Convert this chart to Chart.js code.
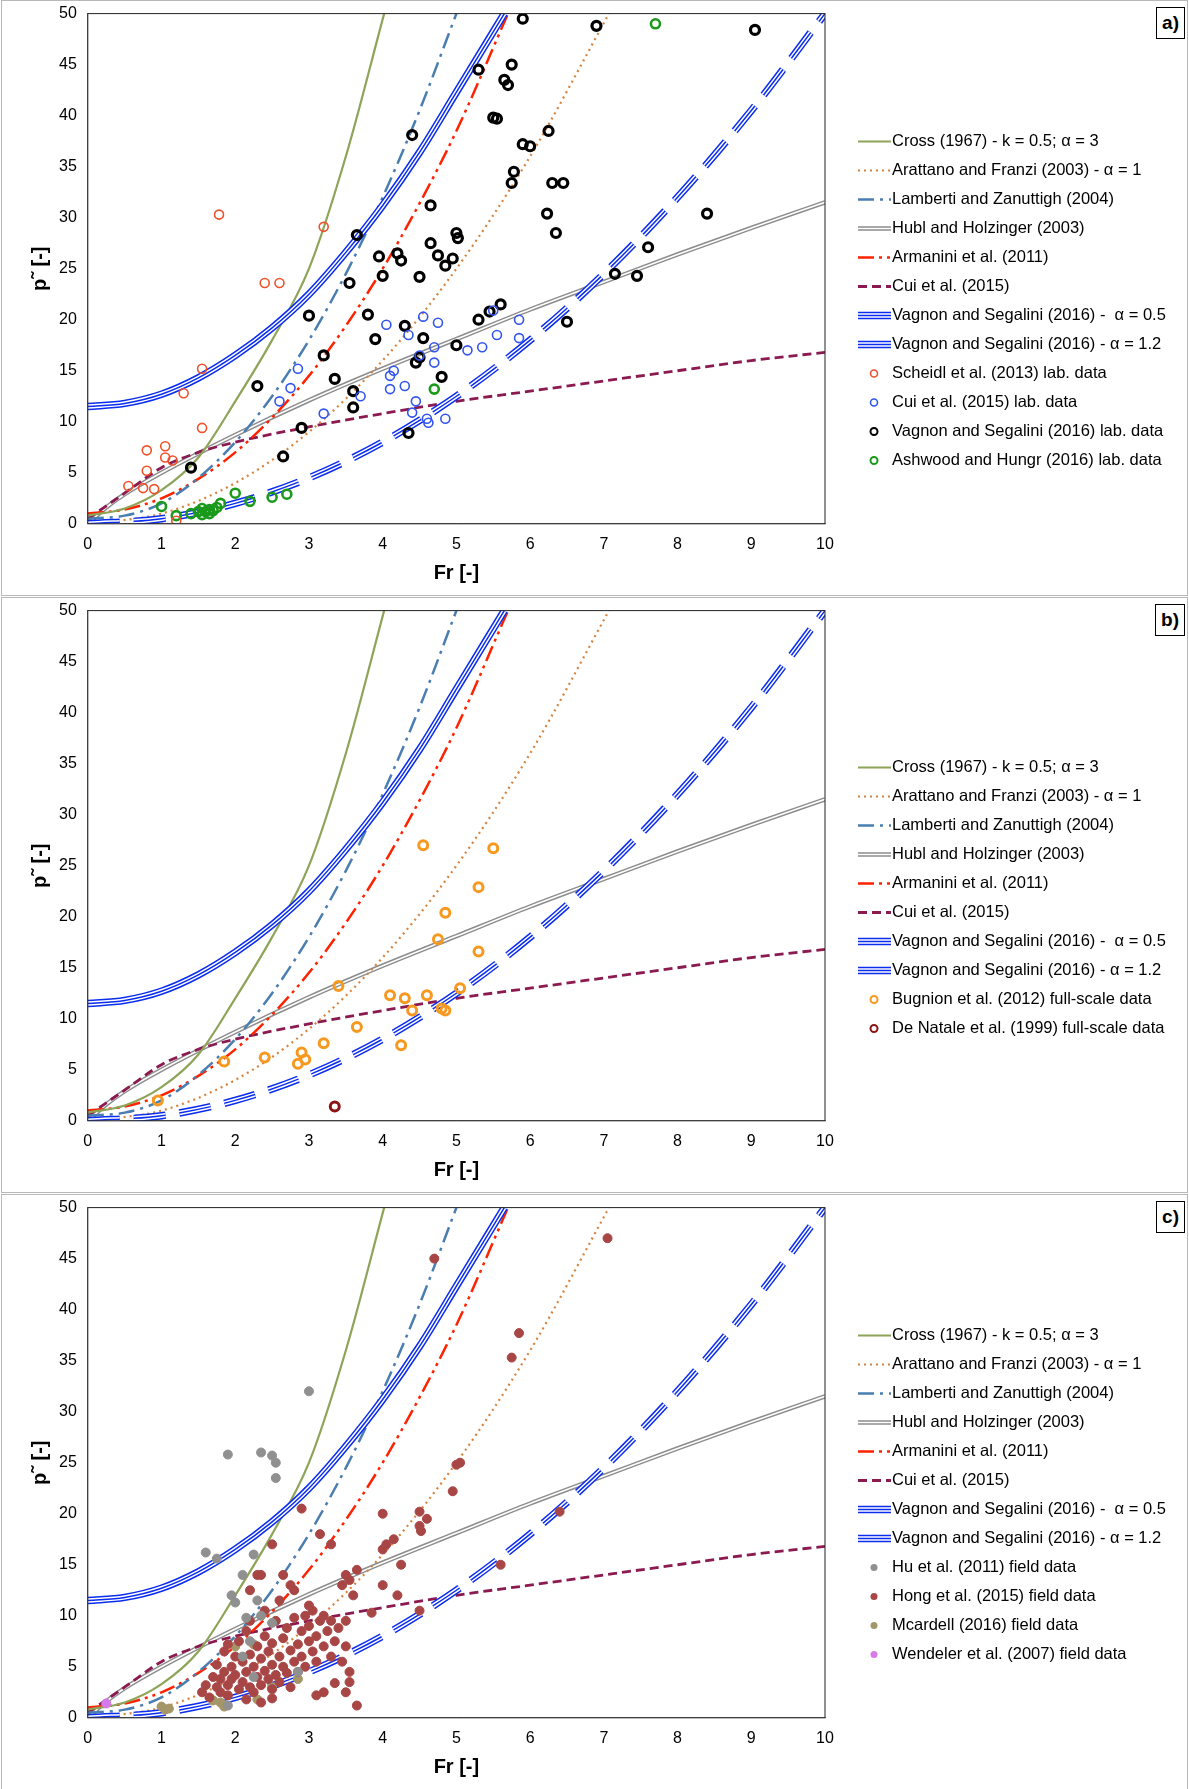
<!DOCTYPE html>
<html><head><meta charset="utf-8">
<script src="https://cdn.jsdelivr.net/npm/chart.js@4"></script>
<style>
body{margin:0;background:#fff;font-family:"Liberation Sans",Arial,sans-serif;}
.panel{position:relative;width:1185px;height:594px;border:1px solid #b8b8b8;margin:0 0 1px 1px;}
.tag{position:absolute;right:2px;top:6px;border:1px solid #000;background:#fff;font-weight:bold;font-size:19px;padding:4px 5px;}
canvas{display:block;}
</style></head><body>
<div class="panel"><canvas id="ca" width="1185" height="594"></canvas><div class="tag">a)</div></div>
<div class="panel"><canvas id="cb" width="1185" height="594"></canvas><div class="tag">b)</div></div>
<div class="panel"><canvas id="cc" width="1185" height="594"></canvas><div class="tag">c)</div></div>
<script>
// model curves
const crossFr = [0,0.5,1,1.5,2,2.5,3,3.5,4.02];
const crossP  = [0.8,1.5,3.3,6.5,12,18,25,36,50];
const arattFr = [0,1,2,3,4,5,6,7.07];
const arattP  = [0,1,4,9,16,25,36,50];
const lambFr = [0,0.5,1,1.5,2,2.5,3,3.5,4,4.5,5];
const lambP  = [0.5,0.8,2,4.5,8,12.5,18,24.5,32,40.5,50];
const hublFr = [0,0.25,0.5,1,2,3,4,5,6,7,8,9,10];
const hublP  = [0,1.6,2.9,5,8.7,12.1,15.2,18.1,21,23.7,26.4,29,31.5];
const armFr = [0,0.5,1,1.5,2,2.5,3,3.5,4,4.5,5,5.7];
const armP  = [1,1.4,2.5,4.4,7,10.4,14.5,19.4,25,31.4,38.5,50];
const cuiFr = [0,0.5,1,1.5,2,3,4,5,6,7,8,9,10];
const cuiP  = [0.5,3,5.5,7,8,9.5,10.8,12,13,14,15,16,16.8];
const vs05Fr = [0,0.5,1,1.5,2,2.5,3,3.5,4,4.5,5,5.65];
const vs05P  = [11.5,11.8,12.7,14.3,16.5,19.2,22.5,26.6,31.2,36.4,42.3,50];
const vs12Fr = [0,1,2,3,4,5,6,7,8,9,10];
const vs12P  = [0,0.5,2,4.5,8,12.5,18,24.5,32,40.5,50];

// lab / field data [Fr, p]
const scheidl = [[0.55,3.7],[0.75,3.5],[0.8,5.2],[0.8,7.2],[0.9,3.4],[1.05,7.6],[1.05,6.5],[1.15,6.2],[1.3,12.8],[1.55,15.2],[1.55,9.4],[1.78,30.3],[2.4,23.6],[2.6,23.6],[3.2,29.1],[1.2,0.3]];
const cuiLab = [[2.6,12],[2.75,13.3],[2.85,15.2],[3.2,10.8],[3.7,12.5],[4.05,19.5],[4.1,13.2],[4.15,15],[4.3,13.5],[4.35,18.5],[4.4,10.9],[4.45,12],[4.5,16.5],[4.55,20.3],[4.6,10.3],[4.62,9.9],[4.7,15.8],[4.7,17.3],[4.75,19.7],[4.85,10.3],[5.15,17],[5.35,17.3],[5.5,20.9],[5.55,18.5],[5.85,20],[5.85,18.2],[4.1,14.5]];
const vagnonLab = [[1.4,5.5],[2.3,13.5],[2.65,6.6],[2.9,9.4],[3,20.4],[3.2,16.5],[3.35,14.2],[3.55,23.6],[3.6,11.4],[3.6,13],[3.65,28.3],[3.8,20.5],[3.9,18.1],[3.95,26.2],[4.0,24.3],[4.2,26.5],[4.25,25.8],[4.3,19.4],[4.35,8.9],[4.45,15.8],[4.5,16.3],[4.4,38.1],[4.5,24.2],[4.55,18.2],[4.65,27.5],[4.65,31.2],[4.75,26.3],[4.8,14.4],[4.85,25.3],[4.95,26],[5.0,28.5],[5.02,28],[5.0,17.5],[5.3,20],[5.3,44.5],[5.45,20.8],[5.5,39.8],[5.55,39.7],[5.6,21.5],[5.65,43.5],[5.7,43],[5.75,33.4],[5.78,34.5],[5.75,45],[5.9,49.5],[5.9,37.2],[6.0,37],[6.25,38.5],[6.23,30.4],[6.3,33.4],[6.35,28.5],[6.45,33.4],[6.5,19.8],[6.9,48.8],[7.15,24.5],[7.45,24.3],[7.6,27.1],[8.4,30.4],[9.05,48.4]];
const ashwood = [[1.2,0.8],[1.4,1.0],[1.5,1.2],[1.55,0.9],[1.55,1.5],[1.65,1.0],[1.65,1.4],[1.75,1.6],[1.8,2.0],[2.0,3.0],[2.2,2.2],[2.5,2.6],[2.7,2.9],[1.0,1.7],[4.7,13.2],[7.7,49],[1.6,1.2],[1.7,1.3]];
const bugnion = [[0.95,2],[1.85,5.8],[2.4,6.2],[2.85,5.6],[2.9,6.7],[2.95,6],[3.2,7.6],[3.4,13.2],[3.65,9.2],[4.1,12.3],[4.25,7.4],[4.3,12],[4.4,10.8],[4.55,27],[4.6,12.3],[4.75,17.8],[4.8,11],[4.85,10.8],[4.85,20.4],[5.05,13],[5.3,22.9],[5.3,16.6],[5.5,26.7]];
const deNatale = [[3.35,1.4]];
const huField = [[1.6,16.2],[1.9,25.8],[1.75,15.6],[1.95,12],[2.1,14],[2.15,9.8],[2.25,16],[2.3,11.5],[2.35,26],[2.5,25.7],[2.55,25],[2.55,23.5],[3.0,32],[2.2,7.5],[2.1,6],[1.9,1.2],[2.35,10],[2.5,9.3],[2.0,11.3],[2.25,4],[2.85,4.5]];
const hongField = [[1.55,2.5],[1.6,3.2],[1.65,2],[1.7,4],[1.75,3],[1.75,5.2],[1.8,2.5],[1.8,3.8],[1.85,4.5],[1.85,6.5],[1.9,3.2],[1.9,2.2],[1.95,5],[1.95,3.8],[2.0,4.2],[2.0,6],[2.05,2.8],[2.05,7.5],[2.1,3.5],[2.1,5.5],[2.15,4.5],[2.15,8.5],[2.2,3],[2.2,6.2],[2.25,5],[2.25,2.5],[2.3,4],[2.3,7],[2.35,5.8],[2.35,3.2],[2.4,4.6],[2.4,8],[2.45,6.5],[2.45,3.8],[2.5,5.2],[2.5,7.3],[2.5,2.8],[2.55,4.2],[2.55,9.5],[2.6,6],[2.6,3.5],[2.65,7.8],[2.65,5],[2.7,4.4],[2.7,8.8],[2.75,6.6],[2.75,3],[2.8,5.5],[2.8,9.8],[2.85,7.2],[2.85,4.5],[2.9,8.5],[2.9,6],[2.95,10],[2.95,5],[3.0,7.5],[3.0,9],[3.05,6.5],[3.05,10.5],[3.1,8],[3.1,5.5],[3.15,9.5],[3.2,7],[3.2,10],[3.25,8.5],[3.3,6],[3.3,9.5],[3.35,7.5],[3.4,8.8],[3.45,5.5],[3.5,9.5],[3.5,7],[2.4,10.5],[2.2,9.5],[1.9,7.2],[2.6,11.5],[2.8,12.5],[3.0,11],[2.15,1.8],[2.35,1.5],[2.5,1.9],[3.1,2.2],[3.55,3.5],
  [4.7,45],[5.75,35.3],[5.85,37.7],[7.05,47],[4.95,22.2],[5.0,24.8],[5.05,25],[4.5,20.2],[4.5,18.8],[4.6,19.5],[4.52,18.3],[5.6,15],[6.4,20.2],[4.05,17],[4.0,20],[4.15,17.5],[4.0,16.5],[4.25,15],[3.45,13],[3.55,13.5],[3.6,12],[3.5,14],[3.65,14.5],[3.3,17],[3.15,18],[2.9,20.5],[2.75,13],[2.65,14],[2.5,17],[2.35,14],[2.2,12.5],[2.3,14],[4.5,10.5],[3.65,1.2],[3.55,4.5],[3.5,2.5],[3.35,3.4],[3.2,2.5],[4.0,13],[3.85,10.3],[4.2,12]];
const mcardell = [[1.0,1.1],[1.05,0.8],[1.1,0.9],[1.8,1.5],[1.85,1.1],[2.25,7.2],[2.0,7],[2.85,3.8],[2.3,1.8],[2.5,3],[1.7,1.7]];
const wendeler = [[0.25,1.4]];

const xyOf = (xs, ys) => xs.map((x, i) => ({x, y: ys[i]}));
const pts = a => a.map(p => ({x: p[0], y: p[1]}));
const BLUE = '#0b2df0';

// lower "order" is drawn on top
function line(label, xs, ys, color, width, dash, order) {
  return {label, data: xyOf(xs, ys), showLine: true, borderColor: color, borderWidth: width,
    borderDash: dash || [], pointRadius: 0, cubicInterpolationMode: 'monotone', fill: false,
    order: order || 10};
}
function modelSets() {
  return [
    line('Cross (1967) - k = 0.5; α = 3', crossFr, crossP, '#8ea458', 2.2),
    line('Arattano and Franzi (2003) - α = 1', arattFr, arattP, '#d9823b', 2.2, [2, 4]),
    line('Lamberti and Zanuttigh (2004)', lambFr, lambP, '#4a7eb0', 2.5, [16, 6, 3, 6]),
    line('Hubl and Holzinger (2003)', hublFr, hublP, '#8c8c8c', 4.5, null, 12),
    line('', hublFr, hublP, '#ffffff', 1.6, null, 11),
    line('Armanini et al. (2011)', armFr, armP, '#ff2200', 2.5, [16, 5, 3, 5, 3, 5]),
    line('Cui et al. (2015)', cuiFr, cuiP, '#8b1a50', 2.8, [9, 5]),
    line('Vagnon and Segalini (2016) -  α = 0.5', vs05Fr, vs05P, BLUE, 7.5, null, 9),
    line('', vs05Fr, vs05P, '#ffffff', 4.5, null, 8),
    line('', vs05Fr, vs05P, BLUE, 1.5, null, 7),
    line('Vagnon and Segalini (2016) - α = 1.2', vs12Fr, vs12P, BLUE, 7.5, [32, 14], 9),
    line('', vs12Fr, vs12P, '#ffffff', 4.5, [32, 14], 8),
    line('', vs12Fr, vs12P, BLUE, 1.5, [32, 14], 7)
  ];
}
function scatter(label, arr, color, bw, filled) {
  return {label, data: pts(arr), showLine: false, pointRadius: 4.5,
    pointBorderWidth: bw, pointBorderColor: color,
    pointBackgroundColor: filled ? color : 'rgba(0,0,0,0)', order: 1};
}

// legend drawn on the canvas, right of the plot
const legendPlugin = {
  id: 'sideLegend',
  afterDraw(chart) {
    const ctx = chart.ctx, sets = chart.data.datasets.filter(d => d.label);
    const rowH = 29, x0 = 856, y0 = 300 - (sets.length - 1) * rowH / 2;
    ctx.save();
    ctx.font = '16.5px "Liberation Sans", Arial, sans-serif';
    ctx.textBaseline = 'middle';
    sets.forEach((d, i) => {
      const y = y0 + i * rowH;
      if (d.showLine) {
        const blueTriple = d.borderColor === BLUE, gray = d.borderColor === '#8c8c8c';
        const strokes = blueTriple ? [[BLUE, 7.5], ['#fff', 4.5], [BLUE, 1.5]]
          : gray ? [['#8c8c8c', 4.5], ['#fff', 1.6]] : [[d.borderColor, d.borderWidth]];
        strokes.forEach(([c, w]) => {
          ctx.strokeStyle = c; ctx.lineWidth = w;
          ctx.setLineDash(blueTriple || gray ? [] : d.borderDash);
          ctx.beginPath(); ctx.moveTo(x0, y); ctx.lineTo(x0 + 33, y); ctx.stroke();
        });
        ctx.setLineDash([]);
      } else {
        ctx.beginPath(); ctx.arc(x0 + 16, y, 3.5, 0, Math.PI * 2);
        if (d.pointBackgroundColor !== 'rgba(0,0,0,0)') { ctx.fillStyle = d.pointBackgroundColor; ctx.fill(); }
        else { ctx.strokeStyle = d.pointBorderColor; ctx.lineWidth = Math.min(d.pointBorderWidth, 2); ctx.stroke(); }
      }
      ctx.fillStyle = '#000';
      ctx.fillText(d.label, x0 + 34, y);
    });
    const a = chart.chartArea;
    ctx.strokeStyle = '#222'; ctx.lineWidth = 1;
    ctx.strokeRect(a.left, a.top, a.right - a.left, a.bottom - a.top);
    ctx.restore();
  }
};

function makeChart(id, points) {
  const font = {family: '"Liberation Sans", Arial, sans-serif', size: 16};
  new Chart(document.getElementById(id), {
    type: 'scatter',
    data: {datasets: modelSets().concat(points)},
    options: {
      responsive: false, animation: false, devicePixelRatio: 1,
      layout: {padding: {left: 22, right: 362, top: 12, bottom: 6}},
      plugins: {legend: {display: false}, tooltip: {enabled: false}},
      scales: {
        x: {type: 'linear', min: 0, max: 10,
          ticks: {stepSize: 1, color: '#000', font},
          grid: {display: false}, border: {color: '#888'},
          title: {display: true, text: 'Fr [-]', color: '#000', font: {...font, size: 20, weight: 'bold'}}},
        y: {min: 0, max: 50,
          ticks: {stepSize: 5, color: '#000', font},
          grid: {display: false}, border: {color: '#888'},
          title: {display: true, text: 'p˜ [-]', color: '#000', font: {...font, size: 20, weight: 'bold'}}}
      }
    },
    plugins: [legendPlugin]
  });
}

makeChart('ca', [
  scatter('Scheidl et al. (2013) lab. data', scheidl, '#f0502a', 1.6),
  scatter('Cui et al. (2015) lab. data', cuiLab, '#3355ee', 1.6),
  scatter('Vagnon and Segalini (2016) lab. data', vagnonLab, '#000000', 3.2),
  scatter('Ashwood and Hungr (2016) lab. data', ashwood, '#1a9a1a', 2.6)
]);
makeChart('cb', [
  scatter('Bugnion et al. (2012) full-scale data', bugnion, '#f7981f', 3),
  scatter('De Natale et al. (1999) full-scale data', deNatale, '#8b1414', 3)
]);
makeChart('cc', [
  scatter('Hu et al. (2011) field data', huField, '#909090', 1, true),
  scatter('Hong et al. (2015) field data', hongField, '#a84646', 1, true),
  scatter('Mcardell (2016) field data', mcardell, '#a49668', 1, true),
  scatter('Wendeler et al. (2007) field data', wendeler, '#d57ae8', 1, true)
]);
</script>
</body></html>
